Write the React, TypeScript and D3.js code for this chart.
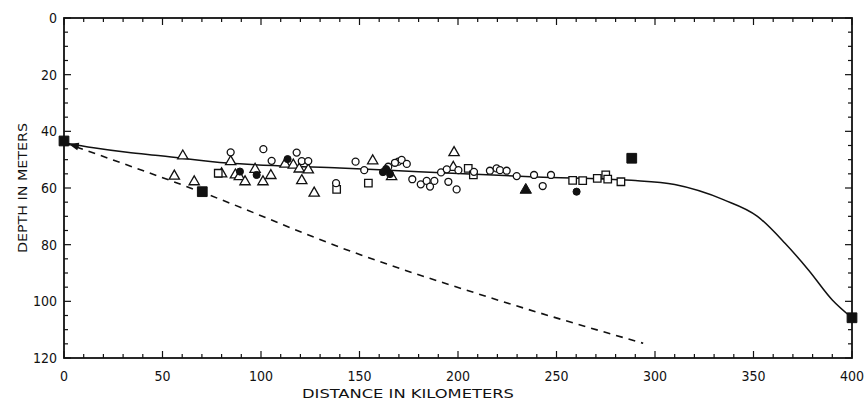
import React from 'react';
import * as d3 from 'd3';

// distance (km), depth (m)
const solidCurve: [number, number][] = [
  [0, 44], [15, 45.8], [32, 47.4], [49, 48.6], [83, 51.2], [110, 52.2], [140, 52.9],
  [170, 53.9], [200, 54.9], [240, 56.1], [288, 57.3], [310, 58.8], [335, 64.2],
  [352, 70], [366, 79.5], [378, 89], [390, 99.5], [400, 105.8],
];
const dashedCurve: [number, number][] = [
  [0, 44], [70, 61.5], [147, 82.7], [220, 99.5], [294, 114.8],
];

const openTriangles: [number, number][] = [
  [60.3, 48.7], [56, 55.8], [66.1, 57.8], [84.6, 50.7], [80, 55], [87, 55.4], [89, 56],
  [91.9, 57.8], [97, 53.4], [101, 57.8], [105, 55.6], [112.2, 51.6], [116.4, 51.9],
  [119.4, 53.3], [124, 53.6], [120.7, 57.4], [127, 61.8], [156.7, 50.4], [166.3, 56],
  [198, 47.5], [197.6, 52.7],
];
const openCircles: [number, number][] = [
  [84.6, 47.4], [101.2, 46.3], [105.4, 50.4], [118.1, 47.5], [120.7, 50.5], [124, 50.5],
  [138.1, 58.3], [148, 50.7], [152.4, 53.7], [169.7, 50.7], [164.6, 52.5], [168, 51.1],
  [171.4, 50.1], [174, 51.5], [176.8, 56.9], [181.1, 58.7], [184.1, 57.5], [185.8, 59.5],
  [188, 57.5], [191.4, 54.5], [194.3, 53.4], [195.1, 57.8], [200.2, 53.7], [199.3, 60.5],
  [208.1, 54.3], [216.2, 53.9], [219.6, 53.1], [221.3, 53.7], [224.7, 53.9], [229.8, 55.8],
  [238.6, 55.4], [243, 59.3], [247.2, 55.4],
];
const openSquares: [number, number][] = [
  [78.3, 54.8], [138.4, 60.5], [154.5, 58.3], [205.2, 53.1], [207.8, 55.4], [258.2, 57.3],
  [263.3, 57.4], [270.7, 56.6], [275, 55.4], [276, 56.9], [282.7, 57.8],
];
const filledCircles: [number, number][] = [
  [89.3, 54.2], [97.8, 55.4], [113.5, 49.8], [163.5, 53.3], [161.9, 54.4], [165.5, 55.1],
  [260.2, 61.3],
];
const filledTriangles: [number, number][] = [[234.4, 60.7]];
const filledSquares: [number, number][] = [[0, 43.4], [70.2, 61.3], [288.2, 49.5], [400, 105.8]];

const xTicks = [0, 50, 100, 150, 200, 250, 300, 350, 400];
const yTicks = [0, 20, 40, 60, 80, 100, 120];

const W = 866;
const H = 404;
const font = '"DejaVu Sans Condensed", "DejaVu Sans", sans-serif';

export default function App() {
  const x = d3.scaleLinear().domain([0, 400]).range([64, 852]);
  const y = d3.scaleLinear().domain([0, 120]).range([18, 358]);

  const line = d3.line<[number, number]>().x(d => x(d[0])).y(d => y(d[1]));
  const solidPath = line.curve(d3.curveMonotoneX)(solidCurve) || '';
  const dashedPath = line.curve(d3.curveMonotoneX)(dashedCurve) || '';

  const sym = (type: d3.SymbolType, size: number) => d3.symbol().type(type).size(size)() || '';
  const tri = sym(d3.symbolTriangle, 46);
  const circ = sym(d3.symbolCircle, 38);
  const sq = sym(d3.symbolSquare, 56);
  const fCirc = sym(d3.symbolCircle, 40);
  const fTri = sym(d3.symbolTriangle, 56);
  const fSq = sym(d3.symbolSquare, 95);

  // arrowheads pointing back at the starting station
  const arrow = (pts: [number, number][]) => {
    const x0 = x(pts[0][0]), y0 = y(pts[0][1]);
    const x1 = x(pts[1][0]), y1 = y(pts[1][1]);
    const a = Math.atan2(y1 - y0, x1 - x0);
    const tx = x0 + Math.cos(a) * 6, ty = y0 + Math.sin(a) * 6;
    const len = 9, half = 2.6;
    const bx = tx + Math.cos(a) * len, by = ty + Math.sin(a) * len;
    const px = -Math.sin(a) * half, py = Math.cos(a) * half;
    return `M${tx},${ty}L${bx + px},${by + py}L${bx - px},${by - py}Z`;
  };

  const xMinor = d3.range(0, 401, 10);
  const yMinor = d3.range(0, 121, 5);

  return (
    <svg width={W} height={H} style={{ position: 'absolute', left: 0, top: 0, background: '#fff' }}>
      <g stroke="#111" strokeWidth={1.2}>
        {xMinor.map(v => {
          const l = v % 50 === 0 ? 7 : 4;
          return (
            <g key={'xt' + v}>
              <line x1={x(v)} x2={x(v)} y1={y(120)} y2={y(120) - l} />
              <line x1={x(v)} x2={x(v)} y1={y(0)} y2={y(0) + l} />
            </g>
          );
        })}
        {yMinor.map(v => {
          const l = v % 20 === 0 ? 7 : 4;
          return (
            <g key={'yt' + v}>
              <line x1={x(0)} x2={x(0) + l} y1={y(v)} y2={y(v)} />
              <line x1={x(400)} x2={x(400) - l} y1={y(v)} y2={y(v)} />
            </g>
          );
        })}
      </g>
      <rect x={x(0)} y={y(0)} width={x(400) - x(0)} height={y(120) - y(0)}
        fill="none" stroke="#111" strokeWidth={1.8} />

      <path d={solidPath} fill="none" stroke="#111" strokeWidth={1.5} />
      <path d={dashedPath} fill="none" stroke="#111" strokeWidth={1.6} strokeDasharray="7,6" />
      <path d={arrow(solidCurve)} fill="#111" />
      <path d={arrow(dashedCurve)} fill="#111" />

      <g fill="#fff" stroke="#111" strokeWidth={1.3}>
        {openTriangles.map((d, i) => (
          <path key={'t' + i} d={tri} transform={`translate(${x(d[0])},${y(d[1])})`} />
        ))}
        {openSquares.map((d, i) => (
          <path key={'s' + i} d={sq} transform={`translate(${x(d[0])},${y(d[1])})`} />
        ))}
        {openCircles.map((d, i) => (
          <path key={'c' + i} d={circ} transform={`translate(${x(d[0])},${y(d[1])})`} />
        ))}
      </g>
      <g fill="#111" stroke="#111" strokeWidth={1}>
        {filledCircles.map((d, i) => (
          <path key={'fc' + i} d={fCirc} transform={`translate(${x(d[0])},${y(d[1])})`} />
        ))}
        {filledTriangles.map((d, i) => (
          <path key={'ft' + i} d={fTri} transform={`translate(${x(d[0])},${y(d[1])})`} />
        ))}
        {filledSquares.map((d, i) => (
          <path key={'fs' + i} d={fSq} transform={`translate(${x(d[0])},${y(d[1])})`} />
        ))}
      </g>

      <g fontFamily={font} fontSize={14} fill="#111">
        {xTicks.map(v => (
          <text key={'xl' + v} x={x(v)} y={381} textAnchor="middle">{v}</text>
        ))}
        {yTicks.map(v => (
          <text key={'yl' + v} x={57} y={y(v) + 5} textAnchor="end">{v}</text>
        ))}
        <text x={408} y={398} textAnchor="middle" fontSize={13} textLength={212}
          lengthAdjust="spacingAndGlyphs">DISTANCE IN KILOMETERS</text>
        <text transform={`translate(27,${y(60)}) rotate(-90)`} textAnchor="middle" fontSize={13}
          textLength={130} lengthAdjust="spacingAndGlyphs">DEPTH IN METERS</text>
      </g>
    </svg>
  );
}
